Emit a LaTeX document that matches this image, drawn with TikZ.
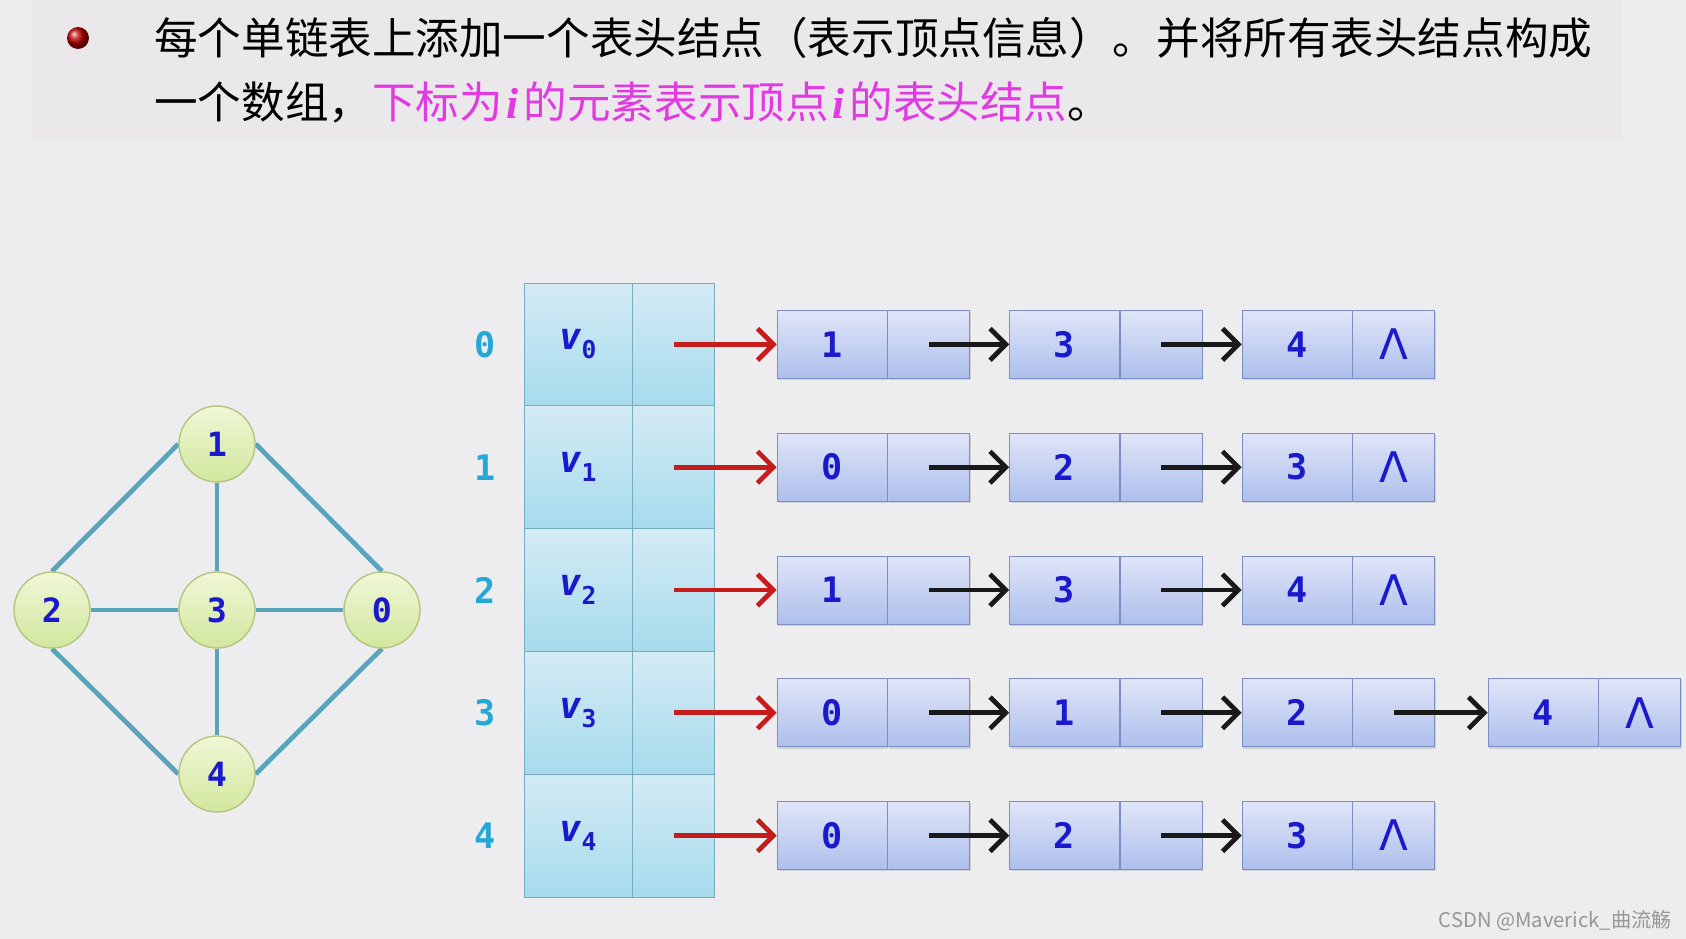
\documentclass[tikz,border=0pt]{standalone}
\usepackage{amsmath}
\usepackage{xcolor}
\usepackage{fontspec}
\setmainfont{Noto Sans CJK SC}
\newfontfamily\codefont{DejaVu Sans Mono}
\newfontfamily\symfont{DejaVu Sans}
\newfontfamily\latinserif{Liberation Serif}
\usepackage{tikz}
\usetikzlibrary{positioning, arrows.meta, shadows, backgrounds}

\definecolor{pagebg}{RGB}{237,236,239}
\definecolor{bandbg}{RGB}{234,232,235}
\definecolor{hilite}{RGB}{226,58,226}
\definecolor{numblue}{RGB}{26,26,204}
\definecolor{idxcyan}{RGB}{38,168,214}
\definecolor{edgeteal}{RGB}{88,164,186}
\definecolor{vtxtop}{RGB}{240,247,214}
\definecolor{vtxbot}{RGB}{210,231,158}
\definecolor{vtxline}{RGB}{178,198,128}
\definecolor{headtop}{RGB}{212,235,244}
\definecolor{headbot}{RGB}{166,219,236}
\definecolor{headline}{RGB}{118,172,192}
\definecolor{listtop}{RGB}{224,229,248}
\definecolor{listbot}{RGB}{174,191,236}
\definecolor{listline}{RGB}{122,142,194}
\definecolor{redptr}{RGB}{198,28,28}
\definecolor{markgray}{RGB}{150,150,152}

\newcommand{\vname}[1]{{\itshape v}\raisebox{-0.45ex}{\fontsize{14}{14}\selectfont #1}}
\newcommand{\nullmark}{{\symfont\mdseries\fontsize{24}{24}\selectfont Λ}}
\newcommand{\idxi}{{\hspace{0.08em}\latinserif\bfseries\itshape i\hspace{0.12em}}}

\begin{document}
\begin{tikzpicture}[x=0.02cm, y=-0.02cm,
    headtext/.style={anchor=west, inner sep=0, font=\fontsize{24.8}{30}\selectfont},
    vertex/.style={circle, draw=vtxline, thick, top color=vtxtop, bottom color=vtxbot,
        minimum size=1.52cm, inner sep=0, text=numblue, font=\codefont\bfseries\fontsize{19}{22}\selectfont},
    edge/.style={edgeteal, line width=2.7pt},
    idx/.style={text=idxcyan, font=\codefont\bfseries\fontsize{20}{24}\selectfont},
    headcell/.style={rectangle, draw=headline, top color=headtop, bottom color=headbot,
        minimum width=2.16cm, minimum height=2.456cm, inner sep=0, text=numblue,
        font=\codefont\bfseries\fontsize{21}{24}\selectfont},
    linkcell/.style={headcell, minimum width=1.64cm, anchor=west},
    datacell/.style={rectangle, draw=listline, top color=listtop, bottom color=listbot,
        minimum width=2.2cm, minimum height=1.36cm, inner sep=0, text=numblue,
        font=\codefont\bfseries\fontsize{20}{24}\selectfont,
        drop shadow={shadow xshift=0.6pt, shadow yshift=-1pt, opacity=0.25}},
    nextcell/.style={datacell, minimum width=1.64cm, anchor=west},
    redarrow/.style={redptr, line width=2.7pt, -{Straight Barb[length=9pt, width=18pt]}},
    blackarrow/.style={black!90, line width=2.7pt, -{Straight Barb[length=9pt, width=18pt]}}]

    \useasboundingbox (0,0) rectangle (1686,939);
    \begin{scope}[on background layer]
        \fill[pagebg] (0,0) rectangle (1686,939);
        \fill[bandbg] (32,0) rectangle (1622,140);
    \end{scope}

    \node[circle, ball color=red!75!black, minimum size=0.44cm, inner sep=0] (bullet) at (78,38) {};
    \node[headtext] (line1) at (154,38) {每个单链表上添加一个表头结点（表示顶点信息）。并将所有表头结点构成};
    \node[headtext] (line2) at (154,102) {一个数组，\textcolor{hilite}{下标为\idxi 的元素表示顶点\idxi 的表头结点}。};

    \node[vertex] (g1) at (217,444) {1};
    \node[vertex] (g2) at (52,610) {2};
    \node[vertex] (g3) at (217,610) {3};
    \node[vertex] (g0) at (382,610) {0};
    \node[vertex] (g4) at (217,774) {4};
    \begin{scope}[on background layer]
        \draw[edge] (g1.west) -- (g2.north);
        \draw[edge] (g1.east) -- (g0.north);
        \draw[edge] (g2.south) -- (g4.west);
        \draw[edge] (g0.south) -- (g4.east);
        \draw[edge] (g1) -- (g3);
        \draw[edge] (g3) -- (g4);
        \draw[edge] (g2) -- (g3);
        \draw[edge] (g3) -- (g0);
    \end{scope}

    \foreach \i in {0,...,4} {
        \pgfmathsetmacro{\y}{344.4+122.8*\i}
        \node[idx] (i\i) at (485,\y) {\i};
        \node[headcell] (h\i) at (578,\y) {\vname{\i}};
        \node[linkcell] (l\i) at (h\i.east) {};
    }

    \foreach \i/\a/\b/\c in {0/1/3/4, 1/0/2/3, 2/1/3/4, 4/0/2/3} {
        \pgfmathsetmacro{\y}{344.4+122.8*\i}
        \node[datacell] (d\i0) at (832,\y) {\a};
        \node[nextcell] (n\i0) at (d\i0.east) {};
        \node[datacell] (d\i1) at (1064.5,\y) {\b};
        \node[nextcell] (n\i1) at (d\i1.east) {};
        \node[datacell] (d\i2) at (1297,\y) {\c};
        \node[nextcell] (n\i2) at (d\i2.east) {\nullmark};
        \draw[redarrow] (l\i.center) -- (d\i0.west);
        \draw[blackarrow] (n\i0.center) -- (d\i1.west);
        \draw[blackarrow] (n\i1.center) -- (d\i2.west);
    }

    \node[datacell] (d30) at (832,712.8) {0};
    \node[nextcell] (n30) at (d30.east) {};
    \node[datacell] (d31) at (1064.5,712.8) {1};
    \node[nextcell] (n31) at (d31.east) {};
    \node[datacell] (d32) at (1297,712.8) {2};
    \node[nextcell] (n32) at (d32.east) {};
    \node[datacell] (d33) at (1543,712.8) {4};
    \node[nextcell] (n33) at (d33.east) {\nullmark};
    \draw[redarrow] (l3.center) -- (d30.west);
    \draw[blackarrow] (n30.center) -- (d31.west);
    \draw[blackarrow] (n31.center) -- (d32.west);
    \draw[blackarrow] (n32.center) -- (d33.west);

    \node[anchor=east, inner sep=0, text=markgray, font=\fontsize{11.5}{14}\selectfont] (mark) at (1672,921) {CSDN @Maverick\_曲流觞};
\end{tikzpicture}
\end{document}
